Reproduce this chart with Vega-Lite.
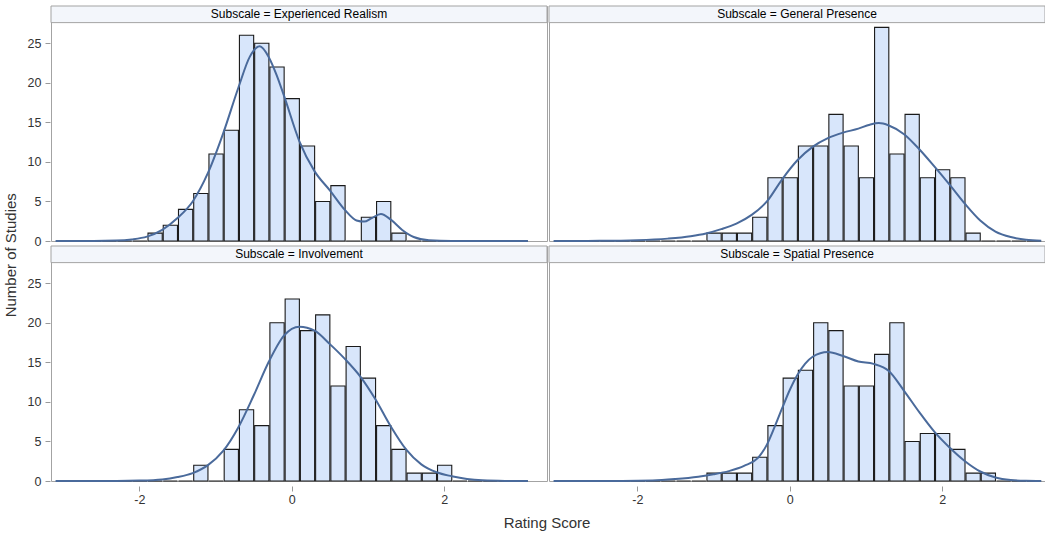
{
  "$schema": "https://vega.github.io/schema/vega-lite/v6.json",
  "background": "white",
  "padding": {"left": 4, "top": 5, "right": 1, "bottom": 4},
  "title": {"text": "Rating Score", "orient": "bottom", "anchor": "middle", "frame": "bounds", "dx": 22, "fontSize": 15, "fontWeight": "normal", "color": "#333333", "font": "Liberation Sans", "offset": 10},
  "vconcat": [
    {
      "title": {"text": "Number of Studies", "orient": "left", "anchor": "middle", "fontSize": 15, "fontWeight": "normal", "color": "#333333", "font": "Liberation Sans", "offset": 8},
      "data": {"values": [
        {"Subscale": "Experienced Realism", "label": "Subscale = Experienced Realism"},
        {"Subscale": "General Presence", "label": "Subscale = General Presence"},
        {"Subscale": "Involvement", "label": "Subscale = Involvement"},
        {"Subscale": "Spatial Presence", "label": "Subscale = Spatial Presence"},

        {"Subscale": "Experienced Realism", "lo": -3.1, "hi": -2.9, "count": 0},
        {"Subscale": "Experienced Realism", "lo": -2.9, "hi": -2.7, "count": 0},
        {"Subscale": "Experienced Realism", "lo": -2.7, "hi": -2.5, "count": 0},
        {"Subscale": "Experienced Realism", "lo": -2.5, "hi": -2.3, "count": 0},
        {"Subscale": "Experienced Realism", "lo": -2.3, "hi": -2.1, "count": 0},
        {"Subscale": "Experienced Realism", "lo": -2.1, "hi": -1.9, "count": 0},
        {"Subscale": "Experienced Realism", "lo": -1.9, "hi": -1.7, "count": 1},
        {"Subscale": "Experienced Realism", "lo": -1.7, "hi": -1.5, "count": 2},
        {"Subscale": "Experienced Realism", "lo": -1.5, "hi": -1.3, "count": 4},
        {"Subscale": "Experienced Realism", "lo": -1.3, "hi": -1.1, "count": 6},
        {"Subscale": "Experienced Realism", "lo": -1.1, "hi": -0.9, "count": 11},
        {"Subscale": "Experienced Realism", "lo": -0.9, "hi": -0.7, "count": 14},
        {"Subscale": "Experienced Realism", "lo": -0.7, "hi": -0.5, "count": 26},
        {"Subscale": "Experienced Realism", "lo": -0.5, "hi": -0.3, "count": 25},
        {"Subscale": "Experienced Realism", "lo": -0.3, "hi": -0.1, "count": 22},
        {"Subscale": "Experienced Realism", "lo": -0.1, "hi": 0.1, "count": 18},
        {"Subscale": "Experienced Realism", "lo": 0.1, "hi": 0.3, "count": 12},
        {"Subscale": "Experienced Realism", "lo": 0.3, "hi": 0.5, "count": 5},
        {"Subscale": "Experienced Realism", "lo": 0.5, "hi": 0.7, "count": 7},
        {"Subscale": "Experienced Realism", "lo": 0.7, "hi": 0.9, "count": 0},
        {"Subscale": "Experienced Realism", "lo": 0.9, "hi": 1.1, "count": 3},
        {"Subscale": "Experienced Realism", "lo": 1.1, "hi": 1.3, "count": 5},
        {"Subscale": "Experienced Realism", "lo": 1.3, "hi": 1.5, "count": 1},
        {"Subscale": "Experienced Realism", "lo": 1.5, "hi": 1.7, "count": 0},
        {"Subscale": "Experienced Realism", "lo": 1.7, "hi": 1.9, "count": 0},
        {"Subscale": "Experienced Realism", "lo": 1.9, "hi": 2.1, "count": 0},
        {"Subscale": "Experienced Realism", "lo": 2.1, "hi": 2.3, "count": 0},
        {"Subscale": "Experienced Realism", "lo": 2.3, "hi": 2.5, "count": 0},
        {"Subscale": "Experienced Realism", "lo": 2.5, "hi": 2.7, "count": 0},
        {"Subscale": "Experienced Realism", "lo": 2.7, "hi": 2.9, "count": 0},
        {"Subscale": "Experienced Realism", "lo": 2.9, "hi": 3.1, "count": 0},

        {"Subscale": "General Presence", "lo": -3.1, "hi": -2.9, "count": 0},
        {"Subscale": "General Presence", "lo": -2.9, "hi": -2.7, "count": 0},
        {"Subscale": "General Presence", "lo": -2.7, "hi": -2.5, "count": 0},
        {"Subscale": "General Presence", "lo": -2.5, "hi": -2.3, "count": 0},
        {"Subscale": "General Presence", "lo": -2.3, "hi": -2.1, "count": 0},
        {"Subscale": "General Presence", "lo": -2.1, "hi": -1.9, "count": 0},
        {"Subscale": "General Presence", "lo": -1.9, "hi": -1.7, "count": 0},
        {"Subscale": "General Presence", "lo": -1.7, "hi": -1.5, "count": 0},
        {"Subscale": "General Presence", "lo": -1.5, "hi": -1.3, "count": 0},
        {"Subscale": "General Presence", "lo": -1.3, "hi": -1.1, "count": 0},
        {"Subscale": "General Presence", "lo": -1.1, "hi": -0.9, "count": 1},
        {"Subscale": "General Presence", "lo": -0.9, "hi": -0.7, "count": 1},
        {"Subscale": "General Presence", "lo": -0.7, "hi": -0.5, "count": 1},
        {"Subscale": "General Presence", "lo": -0.5, "hi": -0.3, "count": 3},
        {"Subscale": "General Presence", "lo": -0.3, "hi": -0.1, "count": 8},
        {"Subscale": "General Presence", "lo": -0.1, "hi": 0.1, "count": 8},
        {"Subscale": "General Presence", "lo": 0.1, "hi": 0.3, "count": 12},
        {"Subscale": "General Presence", "lo": 0.3, "hi": 0.5, "count": 12},
        {"Subscale": "General Presence", "lo": 0.5, "hi": 0.7, "count": 16},
        {"Subscale": "General Presence", "lo": 0.7, "hi": 0.9, "count": 12},
        {"Subscale": "General Presence", "lo": 0.9, "hi": 1.1, "count": 8},
        {"Subscale": "General Presence", "lo": 1.1, "hi": 1.3, "count": 27},
        {"Subscale": "General Presence", "lo": 1.3, "hi": 1.5, "count": 11},
        {"Subscale": "General Presence", "lo": 1.5, "hi": 1.7, "count": 16},
        {"Subscale": "General Presence", "lo": 1.7, "hi": 1.9, "count": 8},
        {"Subscale": "General Presence", "lo": 1.9, "hi": 2.1, "count": 9},
        {"Subscale": "General Presence", "lo": 2.1, "hi": 2.3, "count": 8},
        {"Subscale": "General Presence", "lo": 2.3, "hi": 2.5, "count": 1},
        {"Subscale": "General Presence", "lo": 2.5, "hi": 2.7, "count": 0},
        {"Subscale": "General Presence", "lo": 2.7, "hi": 2.9, "count": 0},
        {"Subscale": "General Presence", "lo": 2.9, "hi": 3.1, "count": 0},
        {"Subscale": "General Presence", "lo": 3.1, "hi": 3.3, "count": 0},

        {"Subscale": "Involvement", "lo": -3.1, "hi": -2.9, "count": 0},
        {"Subscale": "Involvement", "lo": -2.9, "hi": -2.7, "count": 0},
        {"Subscale": "Involvement", "lo": -2.7, "hi": -2.5, "count": 0},
        {"Subscale": "Involvement", "lo": -2.5, "hi": -2.3, "count": 0},
        {"Subscale": "Involvement", "lo": -2.3, "hi": -2.1, "count": 0},
        {"Subscale": "Involvement", "lo": -2.1, "hi": -1.9, "count": 0},
        {"Subscale": "Involvement", "lo": -1.9, "hi": -1.7, "count": 0},
        {"Subscale": "Involvement", "lo": -1.7, "hi": -1.5, "count": 0},
        {"Subscale": "Involvement", "lo": -1.5, "hi": -1.3, "count": 0},
        {"Subscale": "Involvement", "lo": -1.3, "hi": -1.1, "count": 2},
        {"Subscale": "Involvement", "lo": -1.1, "hi": -0.9, "count": 0},
        {"Subscale": "Involvement", "lo": -0.9, "hi": -0.7, "count": 4},
        {"Subscale": "Involvement", "lo": -0.7, "hi": -0.5, "count": 9},
        {"Subscale": "Involvement", "lo": -0.5, "hi": -0.3, "count": 7},
        {"Subscale": "Involvement", "lo": -0.3, "hi": -0.1, "count": 20},
        {"Subscale": "Involvement", "lo": -0.1, "hi": 0.1, "count": 23},
        {"Subscale": "Involvement", "lo": 0.1, "hi": 0.3, "count": 19},
        {"Subscale": "Involvement", "lo": 0.3, "hi": 0.5, "count": 21},
        {"Subscale": "Involvement", "lo": 0.5, "hi": 0.7, "count": 12},
        {"Subscale": "Involvement", "lo": 0.7, "hi": 0.9, "count": 17},
        {"Subscale": "Involvement", "lo": 0.9, "hi": 1.1, "count": 13},
        {"Subscale": "Involvement", "lo": 1.1, "hi": 1.3, "count": 7},
        {"Subscale": "Involvement", "lo": 1.3, "hi": 1.5, "count": 4},
        {"Subscale": "Involvement", "lo": 1.5, "hi": 1.7, "count": 1},
        {"Subscale": "Involvement", "lo": 1.7, "hi": 1.9, "count": 1},
        {"Subscale": "Involvement", "lo": 1.9, "hi": 2.1, "count": 2},
        {"Subscale": "Involvement", "lo": 2.1, "hi": 2.3, "count": 0},
        {"Subscale": "Involvement", "lo": 2.3, "hi": 2.5, "count": 0},
        {"Subscale": "Involvement", "lo": 2.5, "hi": 2.7, "count": 0},
        {"Subscale": "Involvement", "lo": 2.7, "hi": 2.9, "count": 0},
        {"Subscale": "Involvement", "lo": 2.9, "hi": 3.1, "count": 0},

        {"Subscale": "Spatial Presence", "lo": -3.1, "hi": -2.9, "count": 0},
        {"Subscale": "Spatial Presence", "lo": -2.9, "hi": -2.7, "count": 0},
        {"Subscale": "Spatial Presence", "lo": -2.7, "hi": -2.5, "count": 0},
        {"Subscale": "Spatial Presence", "lo": -2.5, "hi": -2.3, "count": 0},
        {"Subscale": "Spatial Presence", "lo": -2.3, "hi": -2.1, "count": 0},
        {"Subscale": "Spatial Presence", "lo": -2.1, "hi": -1.9, "count": 0},
        {"Subscale": "Spatial Presence", "lo": -1.9, "hi": -1.7, "count": 0},
        {"Subscale": "Spatial Presence", "lo": -1.7, "hi": -1.5, "count": 0},
        {"Subscale": "Spatial Presence", "lo": -1.5, "hi": -1.3, "count": 0},
        {"Subscale": "Spatial Presence", "lo": -1.3, "hi": -1.1, "count": 0},
        {"Subscale": "Spatial Presence", "lo": -1.1, "hi": -0.9, "count": 1},
        {"Subscale": "Spatial Presence", "lo": -0.9, "hi": -0.7, "count": 1},
        {"Subscale": "Spatial Presence", "lo": -0.7, "hi": -0.5, "count": 1},
        {"Subscale": "Spatial Presence", "lo": -0.5, "hi": -0.3, "count": 3},
        {"Subscale": "Spatial Presence", "lo": -0.3, "hi": -0.1, "count": 7},
        {"Subscale": "Spatial Presence", "lo": -0.1, "hi": 0.1, "count": 13},
        {"Subscale": "Spatial Presence", "lo": 0.1, "hi": 0.3, "count": 14},
        {"Subscale": "Spatial Presence", "lo": 0.3, "hi": 0.5, "count": 20},
        {"Subscale": "Spatial Presence", "lo": 0.5, "hi": 0.7, "count": 19},
        {"Subscale": "Spatial Presence", "lo": 0.7, "hi": 0.9, "count": 12},
        {"Subscale": "Spatial Presence", "lo": 0.9, "hi": 1.1, "count": 12},
        {"Subscale": "Spatial Presence", "lo": 1.1, "hi": 1.3, "count": 16},
        {"Subscale": "Spatial Presence", "lo": 1.3, "hi": 1.5, "count": 20},
        {"Subscale": "Spatial Presence", "lo": 1.5, "hi": 1.7, "count": 5},
        {"Subscale": "Spatial Presence", "lo": 1.7, "hi": 1.9, "count": 6},
        {"Subscale": "Spatial Presence", "lo": 1.9, "hi": 2.1, "count": 6},
        {"Subscale": "Spatial Presence", "lo": 2.1, "hi": 2.3, "count": 4},
        {"Subscale": "Spatial Presence", "lo": 2.3, "hi": 2.5, "count": 1},
        {"Subscale": "Spatial Presence", "lo": 2.5, "hi": 2.7, "count": 1},
        {"Subscale": "Spatial Presence", "lo": 2.7, "hi": 2.9, "count": 0},
        {"Subscale": "Spatial Presence", "lo": 2.9, "hi": 3.1, "count": 0},
        {"Subscale": "Spatial Presence", "lo": 3.1, "hi": 3.3, "count": 0},

        {"Subscale": "Experienced Realism", "score": -3.1, "curve": 0},
        {"Subscale": "Experienced Realism", "score": -2.6, "curve": 0.0},
        {"Subscale": "Experienced Realism", "score": -2.3, "curve": 0.05},
        {"Subscale": "Experienced Realism", "score": -2.1, "curve": 0.2},
        {"Subscale": "Experienced Realism", "score": -1.9, "curve": 0.55},
        {"Subscale": "Experienced Realism", "score": -1.7, "curve": 1.4},
        {"Subscale": "Experienced Realism", "score": -1.5, "curve": 2.9},
        {"Subscale": "Experienced Realism", "score": -1.3, "curve": 5.0},
        {"Subscale": "Experienced Realism", "score": -1.1, "curve": 8.6},
        {"Subscale": "Experienced Realism", "score": -0.9, "curve": 13.6},
        {"Subscale": "Experienced Realism", "score": -0.7, "curve": 19.4},
        {"Subscale": "Experienced Realism", "score": -0.55, "curve": 23.3},
        {"Subscale": "Experienced Realism", "score": -0.42, "curve": 24.6},
        {"Subscale": "Experienced Realism", "score": -0.3, "curve": 23.2},
        {"Subscale": "Experienced Realism", "score": -0.2, "curve": 21.0},
        {"Subscale": "Experienced Realism", "score": -0.1, "curve": 18.3},
        {"Subscale": "Experienced Realism", "score": 0.1, "curve": 12.6},
        {"Subscale": "Experienced Realism", "score": 0.3, "curve": 8.8},
        {"Subscale": "Experienced Realism", "score": 0.5, "curve": 6.4},
        {"Subscale": "Experienced Realism", "score": 0.7, "curve": 3.9},
        {"Subscale": "Experienced Realism", "score": 0.85, "curve": 2.6},
        {"Subscale": "Experienced Realism", "score": 0.95, "curve": 2.45},
        {"Subscale": "Experienced Realism", "score": 1.05, "curve": 2.9},
        {"Subscale": "Experienced Realism", "score": 1.17, "curve": 3.4},
        {"Subscale": "Experienced Realism", "score": 1.3, "curve": 2.7},
        {"Subscale": "Experienced Realism", "score": 1.45, "curve": 1.4},
        {"Subscale": "Experienced Realism", "score": 1.6, "curve": 0.5},
        {"Subscale": "Experienced Realism", "score": 1.8, "curve": 0.1},
        {"Subscale": "Experienced Realism", "score": 2.1, "curve": 0.01},
        {"Subscale": "Experienced Realism", "score": 3.1, "curve": 0},

        {"Subscale": "General Presence", "score": -3.1, "curve": 0},
        {"Subscale": "General Presence", "score": -2.5, "curve": 0.02},
        {"Subscale": "General Presence", "score": -2.0, "curve": 0.1},
        {"Subscale": "General Presence", "score": -1.6, "curve": 0.3},
        {"Subscale": "General Presence", "score": -1.3, "curve": 0.6},
        {"Subscale": "General Presence", "score": -1.1, "curve": 0.95},
        {"Subscale": "General Presence", "score": -0.9, "curve": 1.5},
        {"Subscale": "General Presence", "score": -0.7, "curve": 2.2},
        {"Subscale": "General Presence", "score": -0.5, "curve": 3.3},
        {"Subscale": "General Presence", "score": -0.3, "curve": 5.0},
        {"Subscale": "General Presence", "score": -0.1, "curve": 7.8},
        {"Subscale": "General Presence", "score": 0.1, "curve": 10.2},
        {"Subscale": "General Presence", "score": 0.3, "curve": 11.9},
        {"Subscale": "General Presence", "score": 0.5, "curve": 13.0},
        {"Subscale": "General Presence", "score": 0.7, "curve": 13.7},
        {"Subscale": "General Presence", "score": 0.9, "curve": 14.2},
        {"Subscale": "General Presence", "score": 1.05, "curve": 14.7},
        {"Subscale": "General Presence", "score": 1.17, "curve": 14.9},
        {"Subscale": "General Presence", "score": 1.3, "curve": 14.6},
        {"Subscale": "General Presence", "score": 1.5, "curve": 13.5},
        {"Subscale": "General Presence", "score": 1.7, "curve": 11.6},
        {"Subscale": "General Presence", "score": 1.9, "curve": 9.4},
        {"Subscale": "General Presence", "score": 2.1, "curve": 7.1},
        {"Subscale": "General Presence", "score": 2.3, "curve": 4.7},
        {"Subscale": "General Presence", "score": 2.5, "curve": 2.6},
        {"Subscale": "General Presence", "score": 2.7, "curve": 1.2},
        {"Subscale": "General Presence", "score": 2.9, "curve": 0.5},
        {"Subscale": "General Presence", "score": 3.1, "curve": 0.15},
        {"Subscale": "General Presence", "score": 3.3, "curve": 0.03},

        {"Subscale": "Involvement", "score": -3.1, "curve": 0},
        {"Subscale": "Involvement", "score": -2.3, "curve": 0.01},
        {"Subscale": "Involvement", "score": -2.0, "curve": 0.05},
        {"Subscale": "Involvement", "score": -1.7, "curve": 0.2},
        {"Subscale": "Involvement", "score": -1.5, "curve": 0.5},
        {"Subscale": "Involvement", "score": -1.3, "curve": 1.0},
        {"Subscale": "Involvement", "score": -1.1, "curve": 2.0},
        {"Subscale": "Involvement", "score": -0.9, "curve": 3.8},
        {"Subscale": "Involvement", "score": -0.7, "curve": 6.8},
        {"Subscale": "Involvement", "score": -0.5, "curve": 10.8},
        {"Subscale": "Involvement", "score": -0.3, "curve": 15.1},
        {"Subscale": "Involvement", "score": -0.1, "curve": 18.4},
        {"Subscale": "Involvement", "score": 0.1, "curve": 19.5},
        {"Subscale": "Involvement", "score": 0.3, "curve": 19.0},
        {"Subscale": "Involvement", "score": 0.5, "curve": 17.3},
        {"Subscale": "Involvement", "score": 0.7, "curve": 15.4},
        {"Subscale": "Involvement", "score": 0.9, "curve": 13.2},
        {"Subscale": "Involvement", "score": 1.1, "curve": 10.3},
        {"Subscale": "Involvement", "score": 1.3, "curve": 6.9},
        {"Subscale": "Involvement", "score": 1.5, "curve": 4.0},
        {"Subscale": "Involvement", "score": 1.7, "curve": 2.1},
        {"Subscale": "Involvement", "score": 1.9, "curve": 1.1},
        {"Subscale": "Involvement", "score": 2.1, "curve": 0.6},
        {"Subscale": "Involvement", "score": 2.3, "curve": 0.25},
        {"Subscale": "Involvement", "score": 2.5, "curve": 0.08},
        {"Subscale": "Involvement", "score": 2.8, "curve": 0.01},
        {"Subscale": "Involvement", "score": 3.1, "curve": 0},

        {"Subscale": "Spatial Presence", "score": -3.1, "curve": 0},
        {"Subscale": "Spatial Presence", "score": -2.2, "curve": 0.01},
        {"Subscale": "Spatial Presence", "score": -1.8, "curve": 0.06},
        {"Subscale": "Spatial Presence", "score": -1.5, "curve": 0.25},
        {"Subscale": "Spatial Presence", "score": -1.2, "curve": 0.55},
        {"Subscale": "Spatial Presence", "score": -1.0, "curve": 0.85},
        {"Subscale": "Spatial Presence", "score": -0.8, "curve": 1.25},
        {"Subscale": "Spatial Presence", "score": -0.6, "curve": 1.9},
        {"Subscale": "Spatial Presence", "score": -0.4, "curve": 3.1},
        {"Subscale": "Spatial Presence", "score": -0.3, "curve": 4.6},
        {"Subscale": "Spatial Presence", "score": -0.2, "curve": 6.8},
        {"Subscale": "Spatial Presence", "score": -0.1, "curve": 9.2},
        {"Subscale": "Spatial Presence", "score": 0.0, "curve": 11.5},
        {"Subscale": "Spatial Presence", "score": 0.1, "curve": 13.4},
        {"Subscale": "Spatial Presence", "score": 0.2, "curve": 14.8},
        {"Subscale": "Spatial Presence", "score": 0.3, "curve": 15.7},
        {"Subscale": "Spatial Presence", "score": 0.5, "curve": 16.3},
        {"Subscale": "Spatial Presence", "score": 0.7, "curve": 15.8},
        {"Subscale": "Spatial Presence", "score": 0.9, "curve": 15.1},
        {"Subscale": "Spatial Presence", "score": 1.1, "curve": 14.8},
        {"Subscale": "Spatial Presence", "score": 1.3, "curve": 13.9},
        {"Subscale": "Spatial Presence", "score": 1.5, "curve": 11.4},
        {"Subscale": "Spatial Presence", "score": 1.7, "curve": 8.7},
        {"Subscale": "Spatial Presence", "score": 1.9, "curve": 6.2},
        {"Subscale": "Spatial Presence", "score": 2.1, "curve": 4.2},
        {"Subscale": "Spatial Presence", "score": 2.3, "curve": 2.5},
        {"Subscale": "Spatial Presence", "score": 2.5, "curve": 1.2},
        {"Subscale": "Spatial Presence", "score": 2.7, "curve": 0.45},
        {"Subscale": "Spatial Presence", "score": 2.9, "curve": 0.12},
        {"Subscale": "Spatial Presence", "score": 3.1, "curve": 0.02},
        {"Subscale": "Spatial Presence", "score": 3.3, "curve": 0}
      ]},
      "facet": {"field": "Subscale", "type": "nominal", "title": null, "header": {"labels": false, "title": null, "labelFontSize": 0, "labelPadding": 0, "labelExpr": "''"}},
      "columns": 2,
      "spacing": {"row": -10, "column": 0},
      "spec": {
        "width": 496,
        "height": 235,
        "layer": [
          {
            "transform": [{"filter": "isValid(datum.label)"}],
            "mark": {"type": "rect", "fill": "#f3f6fb", "stroke": "#a3a3a3", "strokeWidth": 1},
            "encoding": {
              "x": {"datum": -3.16, "type": "quantitative", "title": null},
              "x2": {"datum": 3.35},
              "y": {"datum": 27.6, "type": "quantitative", "title": null},
              "y2": {"datum": 29.7}
            }
          },
          {
            "transform": [{"filter": "isValid(datum.count)"}],
            "mark": {"type": "bar", "fill": "#d8e6fb", "stroke": "#1a1a1a", "strokeWidth": 1.1},
            "encoding": {
              "x": {"field": "lo", "type": "quantitative", "bin": {"binned": true}, "title": null,
                    "scale": {"domain": [-3.16, 3.35], "nice": false, "zero": false},
                    "axis": {"values": [-2, 0, 2], "labelExpr": "'' + datum.value", "domain": false, "grid": false, "tickSize": 5, "labelPadding": 2, "tickColor": "#999999", "labelColor": "#333333", "labelFontSize": 12.5, "labelFont": "Liberation Sans", "labelFlush": false}},
              "x2": {"field": "hi"},
              "y": {"field": "count", "type": "quantitative", "title": null,
                    "scale": {"domain": [0, 29.7], "nice": false},
                    "axis": {"values": [0, 5, 10, 15, 20, 25], "domain": false, "grid": false, "tickSize": 5, "labelPadding": 4, "tickColor": "#999999", "labelColor": "#333333", "labelFontSize": 12.5, "labelFont": "Liberation Sans"}}
            }
          },
          {
            "transform": [{"filter": "isValid(datum.curve)"}],
            "mark": {"type": "line", "color": "#4a6a9b", "strokeWidth": 2, "interpolate": "monotone"},
            "encoding": {
              "x": {"field": "score", "type": "quantitative", "title": null},
              "y": {"field": "curve", "type": "quantitative", "title": null}
            }
          },
          {
            "transform": [{"filter": "isValid(datum.label)"}],
            "mark": {"type": "text", "fontSize": 12, "font": "Liberation Sans", "color": "#000000", "align": "center", "baseline": "middle"},
            "encoding": {
              "x": {"datum": 0.095, "type": "quantitative", "title": null},
              "y": {"datum": 28.65, "type": "quantitative", "title": null},
              "text": {"field": "label"}
            }
          }
        ]
      }
    }
  ],
  "config": {
    "view": {"stroke": "#a3a3a3", "strokeWidth": 1},
    "header": {"labels": false, "title": null, "labelFontSize": 0, "labelPadding": 0}
  }
}
